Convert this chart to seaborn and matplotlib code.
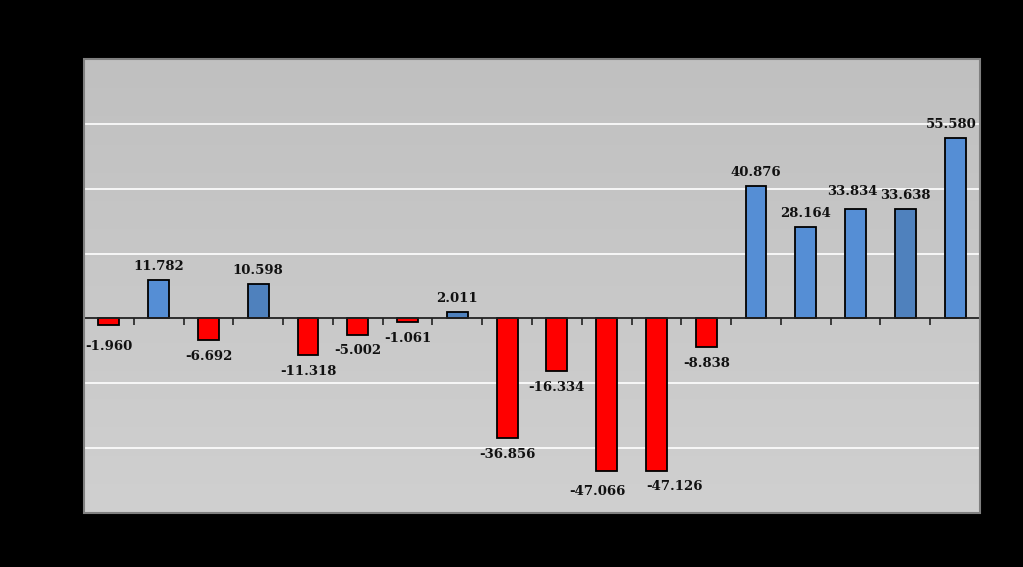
import numpy as np
import matplotlib
matplotlib.use("Agg")
import matplotlib.pyplot as plt
import seaborn as sns
from matplotlib.patches import Rectangle

categories = [f"C{i+1}" for i in range(18)]
values = [-1.960, 11.782, -6.692, 10.598, -11.318, -5.002, -1.061, 2.011,
          -36.856, -16.334, -47.066, -47.126, -8.838, 40.876, 28.164,
          33.834, 33.638, 55.580]
labels = ["-1.960", "11.782", "-6.692", "10.598", "-11.318", "-5.002", "-1.061",
          "2.011", "-36.856", "-16.334", "-47.066", "-47.126", "-8.838",
          "40.876", "28.164", "33.834", "33.638", "55.580"]
dark_blue_idx = [3, 7, 16]

# label nudges (points) to mimic hand-placed labels
nudges = {0: (0, -4), 10: (-7, -3), 11: (13, 1), 15: (-2, 3), 17: (-3, 0)}

RED = "#FF0000"
BLUE = "#558ED5"
DBLUE = "#4F81BD"
colors = []
for i, v in enumerate(values):
    if v < 0:
        colors.append(RED)
    elif i in dark_blue_idx:
        colors.append(DBLUE)
    else:
        colors.append(BLUE)

sns.set_style("white")
fig = plt.figure(figsize=(10.23, 5.67), dpi=100, facecolor="black")
ax = fig.add_axes([84/1023, 54/567, (980-84)/1023, (513-59)/567])

# gradient background
grad = np.linspace(0, 1, 256).reshape(-1, 1)
ax.imshow(grad, extent=[0, 1, 0, 1], transform=ax.transAxes, aspect="auto",
          cmap=matplotlib.colors.LinearSegmentedColormap.from_list("g", ["#c0c0c0", "#d0d0d0"]),
          origin="upper", zorder=0)

sns.barplot(x=categories, y=values, hue=categories, palette=colors, legend=False,
            saturation=1, width=0.42, edgecolor="black", linewidth=1.3, ax=ax, zorder=3)

ax.set_ylim(-60, 80)
ax.set_xlim(-0.5, len(values) - 0.5)
ax.set_yticks([-40, -20, 20, 40, 60])
ax.yaxis.grid(True, color="white", linewidth=1.2, zorder=1)
ax.set_axisbelow(True)
ax.tick_params(axis="y", length=0, labelleft=False)

for s in ["top", "right", "left"]:
    ax.spines[s].set_visible(False)
ax.spines["bottom"].set_position(("data", 0))
ax.spines["bottom"].set_color("#222222")
ax.spines["bottom"].set_linewidth(1.3)
ax.spines["bottom"].set_zorder(4)
ax.set_xticks(np.arange(-0.5, len(values) + 0.5, 1.0))
ax.set_xticklabels([])
ax.tick_params(axis="x", direction="out", length=5, width=1.2, color="#222222",
               bottom=True)
ax.set_xlabel("")
ax.set_ylabel("")

frame = Rectangle((0, 0), 1, 1, transform=ax.transAxes, fill=False,
                  edgecolor="#808080", linewidth=1.5, zorder=5, clip_on=False)
ax.add_patch(frame)

for i, (v, lab) in enumerate(zip(values, labels)):
    dx, dy = nudges.get(i, (0, 0))
    if v >= 0:
        ax.annotate(lab, (i, v), xytext=(dx, 5 + dy), textcoords="offset points",
                    ha="center", va="bottom", fontsize=9.5, fontweight="bold",
                    family="DejaVu Serif", color="#111111", zorder=6)
    else:
        ax.annotate(lab, (i, v), xytext=(dx, -7 + dy), textcoords="offset points",
                    ha="center", va="top", fontsize=9.5, fontweight="bold",
                    family="DejaVu Serif", color="#111111", zorder=6)

fig.savefig("out.png", dpi=100, facecolor="black")
